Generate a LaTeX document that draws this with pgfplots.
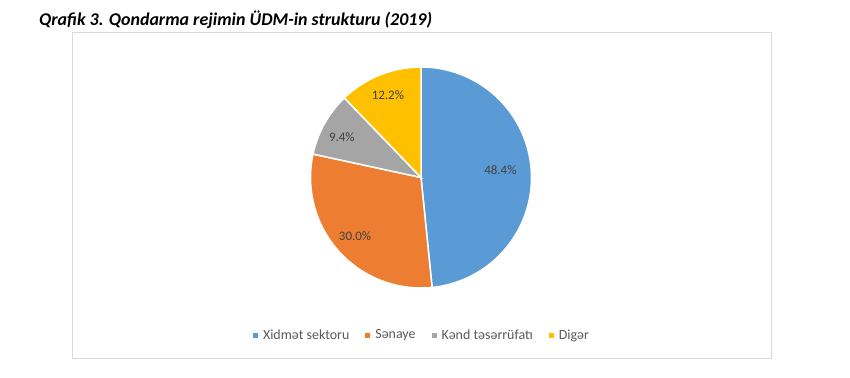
\documentclass[border=0pt]{standalone}
\usepackage{pgfplots}
\pgfplotsset{compat=1.18}
\usepackage{pgfplotstable}
\usepackage{fontspec}
\setmainfont{Carlito}
\definecolor{cBlue}{HTML}{5B9BD5}
\definecolor{cOrange}{HTML}{ED7D31}
\definecolor{cGray}{HTML}{A5A5A5}
\definecolor{cYellow}{HTML}{FFC000}
\definecolor{lblText}{HTML}{404040}
\definecolor{legText}{HTML}{595959}
\definecolor{frameGray}{HTML}{D9D9D9}

\pgfplotstableread{
name value
Xidmet 48.4
Senaye 30.0
Kend 9.4
Diger 12.2
}\piedata
\pgfplotstablegetelem{0}{value}\of\piedata \let\vA\pgfplotsretval
\pgfplotstablegetelem{1}{value}\of\piedata \let\vB\pgfplotsretval
\pgfplotstablegetelem{2}{value}\of\piedata \let\vC\pgfplotsretval
\pgfplotstablegetelem{3}{value}\of\piedata \let\vD\pgfplotsretval

\def\cx{421}
\def\cy{199.5}
\def\rr{110.5}
\pgfmathsetmacro\aO{90}
\pgfmathsetmacro\aA{\aO-3.6*\vA}
\pgfmathsetmacro\aB{\aA-3.6*\vB}
\pgfmathsetmacro\aC{\aB-3.6*\vC}
\pgfmathsetmacro\aD{\aC-3.6*\vD}
\pgfmathsetmacro\mA{(\aO+\aA)/2}
\pgfmathsetmacro\mB{(\aA+\aB)/2}
\pgfmathsetmacro\mC{(\aB+\aC)/2}
\pgfmathsetmacro\mD{(\aC+\aD)/2}
\pgfmathsetmacro\lAx{\cx+0.72*\rr*cos(\mA)}\pgfmathsetmacro\lAy{\cy+0.72*\rr*sin(\mA)+3}
\pgfmathsetmacro\lBx{\cx+0.80*\rr*cos(\mB)}\pgfmathsetmacro\lBy{\cy+0.80*\rr*sin(\mB)}
\pgfmathsetmacro\lCx{\cx+0.82*\rr*cos(\mC)}\pgfmathsetmacro\lCy{\cy+0.80*\rr*sin(\mC)-3}
\pgfmathsetmacro\lDx{\cx+0.80*\rr*cos(\mD)}\pgfmathsetmacro\lDy{\cy+0.80*\rr*sin(\mD)}

\begin{document}
\begin{tikzpicture}
\begin{axis}[
  scale only axis, width=850bp, height=377bp,
  xmin=0, xmax=850, ymin=0, ymax=377,
  hide axis, clip=false,
  legend style={at={(axis cs:422,42)}, anchor=center, draw=none, fill=none,
    legend columns=4, font=\fontsize{14}{16}\selectfont, text=legText,
    /tikz/every even column/.append style={column sep=14bp},
    inner sep=0pt},
  legend image code/.code={\fill[#1, draw=none] (0bp,-2.5bp) rectangle (5bp,2.5bp); \path[draw=none] (0bp,0bp) -- (8bp,0bp);},
]
\path (rel axis cs:0,0) rectangle (rel axis cs:1,1);
\draw[frameGray, line width=0.8bp] (axis cs:72,19) rectangle (axis cs:771,345);
\addplot[fill=cBlue, draw=white, line width=1.5bp, domain=\aA:\aO, samples=90, variable=\t]
  ({\cx+\rr*cos(\t)}, {\cy+\rr*sin(\t)}) -- (axis cs:\cx,\cy) -- cycle;
\addlegendentry{Xidmət sektoru}
\addplot[fill=cOrange, draw=white, line width=1.5bp, domain=\aB:\aA, samples=60, variable=\t]
  ({\cx+\rr*cos(\t)}, {\cy+\rr*sin(\t)}) -- (axis cs:\cx,\cy) -- cycle;
\addlegendentry{Sənaye}
\addplot[fill=cGray, draw=white, line width=1.5bp, domain=\aC:\aB, samples=30, variable=\t]
  ({\cx+\rr*cos(\t)}, {\cy+\rr*sin(\t)}) -- (axis cs:\cx,\cy) -- cycle;
\addlegendentry{Kənd təsərrüfatı}
\addplot[fill=cYellow, draw=white, line width=1.5bp, domain=\aD:\aC, samples=30, variable=\t]
  ({\cx+\rr*cos(\t)}, {\cy+\rr*sin(\t)}) -- (axis cs:\cx,\cy) -- cycle;
\addlegendentry{Digər}
\node[text=lblText, font=\fontsize{13}{15}\selectfont] at (axis cs:\lAx,\lAy) {48.4\%};
\node[text=lblText, font=\fontsize{13}{15}\selectfont] at (axis cs:\lBx,\lBy) {30.0\%};
\node[text=lblText, font=\fontsize{13}{15}\selectfont] at (axis cs:\lCx,\lCy) {9.4\%};
\node[text=lblText, font=\fontsize{13}{15}\selectfont] at (axis cs:\lDx,\lDy) {12.2\%};
\node[anchor=west, font=\fontsize{18}{20}\selectfont\bfseries\itshape, inner sep=0pt] at (axis cs:39,357) {Qrafik 3. Qondarma rejimin ÜDM-in strukturu (2019)};
\end{axis}
\end{tikzpicture}
\end{document}
